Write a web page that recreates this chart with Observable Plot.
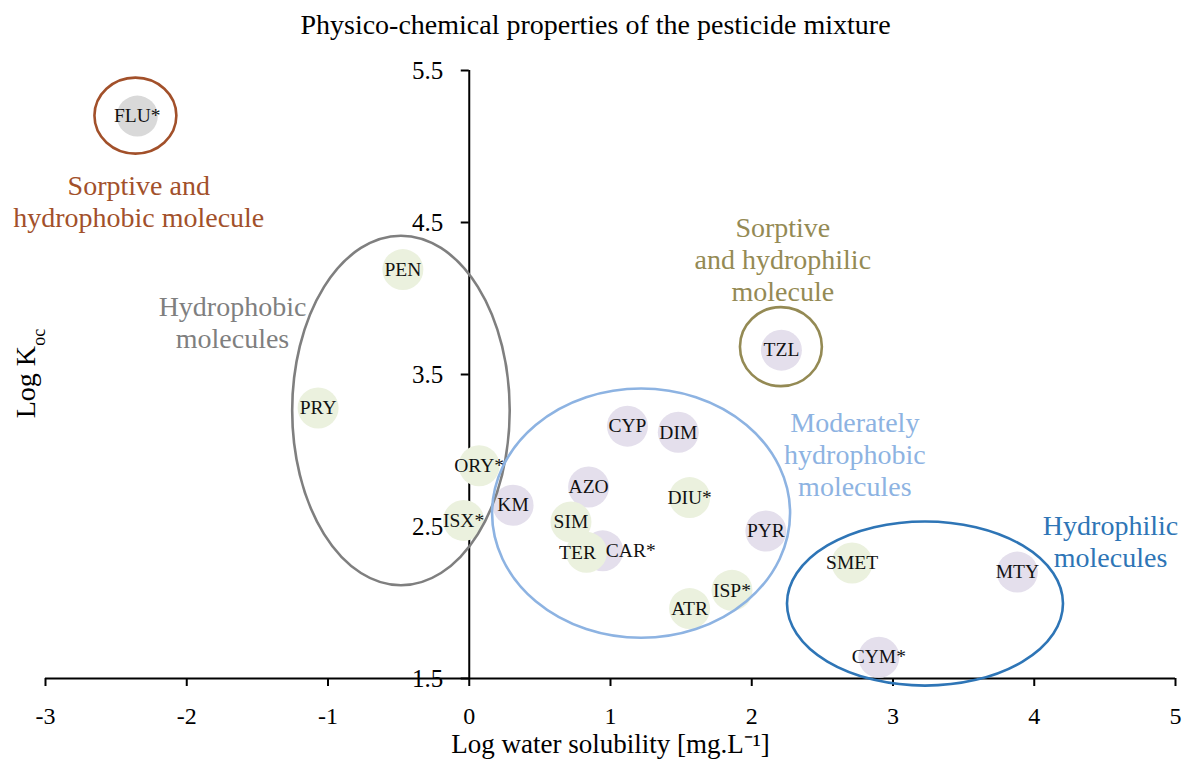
<!DOCTYPE html>
<html>
<head>
<meta charset="utf-8">
<script src="https://cdn.jsdelivr.net/npm/d3@7"></script>
<script src="https://cdn.jsdelivr.net/npm/@observablehq/plot@0.6"></script>
<style>
  html, body { margin: 0; padding: 0; background: #fff; }
  #title { height: 50px; line-height: 50px; text-align: center; font-family: "Liberation Serif", "Times New Roman", serif; font-size: 28px; color: #000; width: 1191px; }
</style>
</head>
<body>
<div id="title">Physico-chemical properties of the pesticide mixture</div>
<div id="chart"></div>
<script>
// ---- data ----
const molecules = ["FLU*","PEN","PRY","ORY*","ISX*","KM","CYP","DIM","AZO","DIU*","SIM","CAR*","TER","ATR","ISP*","PYR","TZL","SMET","MTY","CYM*"];
const logSolubility = [-2.35,-0.47,-1.07,0.07,-0.04,0.31,1.12,1.48,0.845,1.56,0.72,0.945,0.83,1.56,1.86,2.10,2.21,2.71,3.88,2.90];
const logKoc = [5.20,4.19,3.28,2.90,2.54,2.64,3.16,3.12,2.76,2.69,2.53,2.34,2.33,1.96,2.08,2.47,3.66,2.26,2.20,1.64];
const family = ["C","A","A","A","A","B","B","B","B","A","A","B","A","A","A","B","B","A","B","B"];

const xTicks = [-3,-2,-1,0,1,2,3,4,5];
const yTicks = [1.5,2.5,3.5,4.5,5.5];

// groups (ellipses) in data units: centre and half-axes
const groupNames = ["Sorptive and\nhydrophobic molecule","Hydrophobic\nmolecules","Sorptive\nand hydrophilic\nmolecule","Moderately\nhydrophobic\nmolecules","Hydrophilic\nmolecules"];
const groupCx = [-2.36,-0.48,2.21,1.22,3.23];
const groupCy = [5.20,3.26,3.68,2.585,1.99];
const groupRx = [0.29,0.77,0.29,1.055,0.977];
const groupRy = [0.25,1.15,0.26,0.82,0.54];
const groupLabelX = [-2.34,-1.676,2.22,2.73,4.54];
const groupLabelY = [4.645,3.85,4.263,2.98,2.408];

// axis titles (anchored in data units, left of the frame for the y title)
const xTitle = "Log water solubility [mg.L\u207B\u00B9]";
const yTitleMain = "Log K";
const yTitleSub = "oc";

// ---- styles ----
const groupColors = ["#a2502a","#7f7f7f","#948a54","#8db3e2","#2e75b6"];
const familyDomain = ["A","B","C"];
const familyRange = ["#ebf1de","#e4dfec","#d9d9d9"];
const serif = "Liberation Serif, Times New Roman, serif";

const points = molecules.map((m, i) => ({name: m, x: logSolubility[i], y: logKoc[i], fam: family[i]}));
const groups = groupNames.map((g, i) => ({label: g, cx: groupCx[i], cy: groupCy[i], rx: groupRx[i], ry: groupRy[i], lx: groupLabelX[i], ly: groupLabelY[i], color: groupColors[i]}));

const ellipses = (index, scales, values, dimensions, context) => {
  const {x, y} = scales;
  const g = d3.create("svg:g");
  for (const e of groups) {
    g.append("ellipse")
      .attr("cx", x(e.cx)).attr("cy", y(e.cy))
      .attr("rx", Math.abs(x(e.cx + e.rx) - x(e.cx)))
      .attr("ry", Math.abs(y(e.cy + e.ry) - y(e.cy)))
      .attr("fill", "none").attr("stroke", e.color).attr("stroke-width", 2.6);
  }
  return g.node();
};

const centred = points.filter(d => d.name !== "CAR*" && d.name !== "TER");

const chart = Plot.plot({
  width: 1191,
  height: 717,
  marginTop: 20,
  marginBottom: 89,
  marginLeft: 45,
  marginRight: 16,
  x: {domain: [-3, 5], axis: null},
  y: {domain: [1.5, 5.5], axis: null},
  color: {domain: familyDomain, range: familyRange},
  style: {fontFamily: serif, background: "#fff", color: "#000"},
  marks: [
    // axes
    Plot.ruleY([1.5], {x1: -3, x2: 5, stroke: "#000", strokeWidth: 2}),
    Plot.ruleX([0], {y1: 1.5, y2: 5.5, stroke: "#000", strokeWidth: 2}),
    Plot.ruleX(xTicks, {x: d => d, y1: 1.5, y2: 1.5, insetBottom: -8, stroke: "#000", strokeWidth: 2}),
    Plot.ruleY(yTicks, {y: d => d, x1: 0, x2: 0, insetLeft: -8, stroke: "#000", strokeWidth: 2}),
    Plot.text(xTicks, {x: d => d, y: 1.5, dy: 38, text: d => String(d), fontSize: 24, fill: "#000"}),
    Plot.text(yTicks, {x: 0, y: d => d, dx: -26, text: d => d.toFixed(1), textAnchor: "end", fontSize: 25, fill: "#000"}),
    Plot.text([xTitle], {frameAnchor: "bottom", dy: 74, fontSize: 27, fill: "#000"}),
    Plot.text([yTitleMain], {x: -3.135, y: 3.45, rotate: -90, fontSize: 28, fill: "#000"}),
    Plot.text([yTitleSub], {x: -3.045, y: 3.745, rotate: -90, fontSize: 18, fill: "#000"}),
    // bubbles
    Plot.dot(points, {x: "x", y: "y", r: 20.5, fill: "fam", stroke: "none"}),
    // group outlines
    ellipses,
    // group labels
    Plot.text(groups, {x: "lx", y: "ly", text: "label", fill: "color", fontSize: 28, lineHeight: 1.15}),
    // bubble labels
    Plot.text(centred, {x: "x", y: "y", text: "name", fontSize: 19.5, fill: "#111"}),
    Plot.text(points.filter(d => d.name === "TER"), {x: "x", y: "y", text: "name", dx: -9, fontSize: 19.5, fill: "#111"}),
    Plot.text(points.filter(d => d.name === "CAR*"), {x: "x", y: "y", text: "name", dx: 28, fontSize: 19.5, fill: "#111"})
  ]
});
document.getElementById("chart").appendChild(chart);
</script>
</body>
</html>
